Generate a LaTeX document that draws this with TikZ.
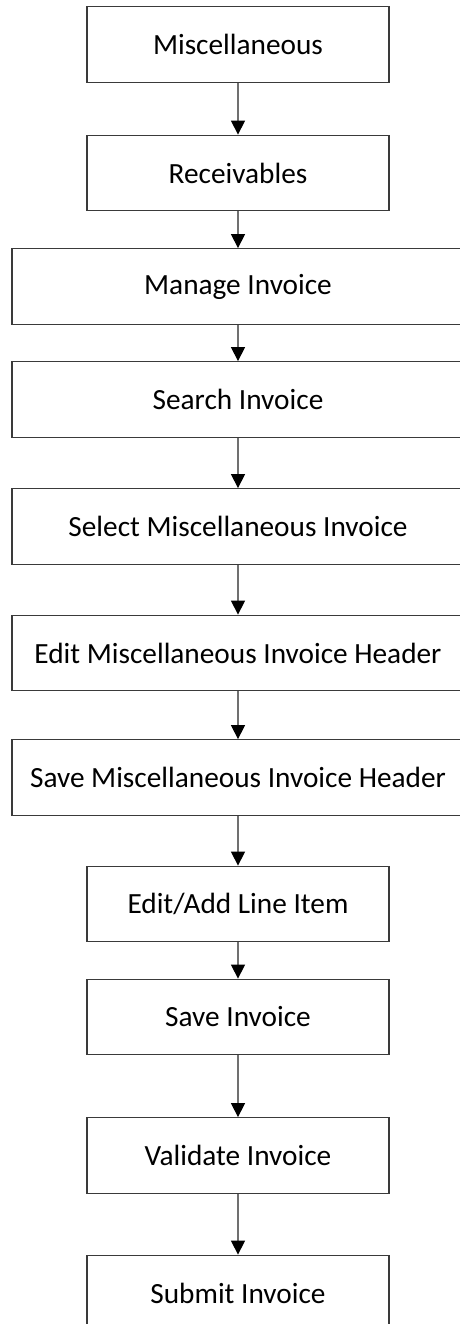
\documentclass[tikz,border=0pt]{standalone}
\usepackage{fontspec}
\setmainfont{Carlito}
\usepackage{tikz}
\usetikzlibrary{arrows.meta}
\definecolor{boxline}{HTML}{3A3A3A}
\definecolor{flowline}{HTML}{707070}

\begin{document}
\begin{tikzpicture}[
    x=1pt, y=-1pt,
    step box/.style={rectangle, draw=boxline, line width=1.3pt, fill=white, minimum width=302pt, minimum height=75.5pt, inner sep=0pt, align=center, font=\fontsize{29.3}{35}\selectfont},
    wide box/.style={step box, minimum width=452pt},
    arrow/.style={-{Triangle[length=14pt,width=14pt,color=black]}, draw=flowline, line width=1.3pt}
]
\clip (0,0) rectangle (460,1324);
\fill[white] (0,0) rectangle (460,1324);

% steps
\node[step box] (misc) at (238,44.5) {Miscellaneous};
\node[step box] (recv) at (238,173) {Receivables};
\node[wide box] (manage) at (238,286.5) {Manage Invoice};
\node[wide box] (search) at (238,399.5) {Search Invoice};
\node[wide box] (select) at (238,526.5) {Select Miscellaneous Invoice};
\node[wide box] (edithdr) at (238,653) {Edit Miscellaneous Invoice Header};
\node[wide box] (savehdr) at (238,777.5) {Save Miscellaneous Invoice Header};
\node[step box] (lineitem) at (238,904) {Edit/Add Line Item};
\node[step box] (saveinv) at (238,1017) {Save Invoice};
\node[step box] (validate) at (238,1155.5) {Validate Invoice};
\node[step box] (submit) at (238,1293) {Submit Invoice};

% flow
\draw[arrow] (misc) -- (recv);
\draw[arrow] (recv) -- (manage);
\draw[arrow] (manage) -- (search);
\draw[arrow] (search) -- (select);
\draw[arrow] (select) -- (edithdr);
\draw[arrow] (edithdr) -- (savehdr);
\draw[arrow] (savehdr) -- (lineitem);
\draw[arrow] (lineitem) -- (saveinv);
\draw[arrow] (saveinv) -- (validate);
\draw[arrow] (validate) -- (submit);
\end{tikzpicture}
\end{document}
